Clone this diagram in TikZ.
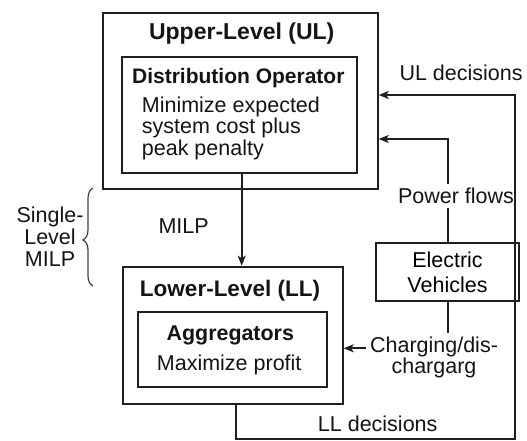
\documentclass[tikz,border=0pt]{standalone}
\usepackage{fontspec}
\setmainfont{Liberation Sans}
\usetikzlibrary{arrows.meta,decorations.pathreplacing}

\begin{document}
\begin{tikzpicture}[x=1pt,y=-1pt,
  box/.style={draw=black!88,line width=1.9pt,inner sep=0pt,rectangle},
  conn/.style={draw=black!88,line width=1.8pt},
  arr/.style={conn,-{Stealth[length=10pt,width=8pt,inset=2.5pt]}},
  lbl/.style={inner sep=0pt,text=black!92,font=\fontsize{21.5}{21.5}\selectfont},
  head/.style={inner sep=0pt,text=black!92,font=\fontsize{23}{23}\selectfont\bfseries},
  subhead/.style={inner sep=0pt,text=black!92,font=\fontsize{21}{21}\selectfont\bfseries},
  gapped/.style={lbl,inner sep=4pt}
]
\useasboundingbox (0,0) rectangle (527,441);

% boxes
\node[box,minimum width=274.7pt,minimum height=175.7pt] (ul) at (240.4,100.9) {};
\node[box,minimum width=235pt,minimum height=116pt] (do) at (239.2,114.7) {};
\node[box,minimum width=220pt,minimum height=137.3pt] (ll) at (232.7,335.3) {};
\node[box,minimum width=188.7pt,minimum height=75.3pt] (ag) at (232.3,349.3) {};
\node[box,minimum width=143.6pt,minimum height=57.4pt,align=center,
      font=\fontsize{21.5}{25}\selectfont] (ev) at (447.5,272) {Electric\\Vehicles};

% box labels (multi-line labels sit on the baseline of their last line)
\node[head,anchor=base] (ultitle) at (241.7,40) {Upper-Level (UL)};
\node[subhead,anchor=base] (dotitle) at (238.3,84) {Distribution Operator};
\node[lbl,anchor=base west,align=left,font=\fontsize{21.5}{21.3}\selectfont] (dotext) at (141.7,155)
  {Minimize expected\\system cost plus\\peak penalty};
\node[head,font=\fontsize{22.5}{22.5}\selectfont\bfseries,anchor=base] (lltitle) at (230,296) {Lower-Level (LL)};
\node[subhead,font=\fontsize{21.4}{21.4}\selectfont\bfseries,anchor=base] (agtitle) at (230.3,340) {Aggregators};
\node[lbl,anchor=base] (agtext) at (229.2,370) {Maximize profit};

% side labels
\node[lbl,anchor=base] (milp) at (183.6,233) {MILP};
\node[lbl,anchor=base,align=center,font=\fontsize{21.5}{21.7}\selectfont] (single) at (50,266) {Single-\\Level\\MILP};
\draw[draw=black!75,line width=1.2pt,decorate,
      decoration={brace,amplitude=10pt,aspect=0.47}] (93,286) -- (93,188);

% flow labels
\node[lbl,anchor=base west] (uldec) at (399.3,80.7) {UL decisions};
\node[gapped,anchor=base] (pf) at (456,203.3) {Power flows};
\node[gapped,anchor=base,align=center,font=\fontsize{21.5}{20.5}\selectfont] (ch) at (434,373.3) {Charging/dis-\\chargarg};
\node[lbl,anchor=base] (lldec) at (377.7,431.7) {LL decisions};

% routing points
\coordinate (mx) at (241.7,0);
\coordinate (px) at (448.3,0);
\coordinate (llout) at (236,439.3);
\coordinate (corner) at (515,439.3);
\coordinate (ulin) at (515,95);
\coordinate (pfin) at (448.3,139);
\coordinate (chin) at (0,348.3);

% connectors
\draw[arr] (do.south -| mx) -- (ll.north -| mx);
\draw[arr] (ll.south -| llout) -- (llout) -- (corner) -- (ulin) -- (ul.east |- ulin);
\draw[conn] (ev.north -| px) -- (pf.south -| px);
\draw[arr] (pf.north -| px) -- (pfin) -- (ul.east |- pfin);
\draw[conn] (ev.south -| px) -- (ch.north -| px);
\draw[arr] (ch.west |- chin) -- (ll.east |- chin);
\end{tikzpicture}
\end{document}
